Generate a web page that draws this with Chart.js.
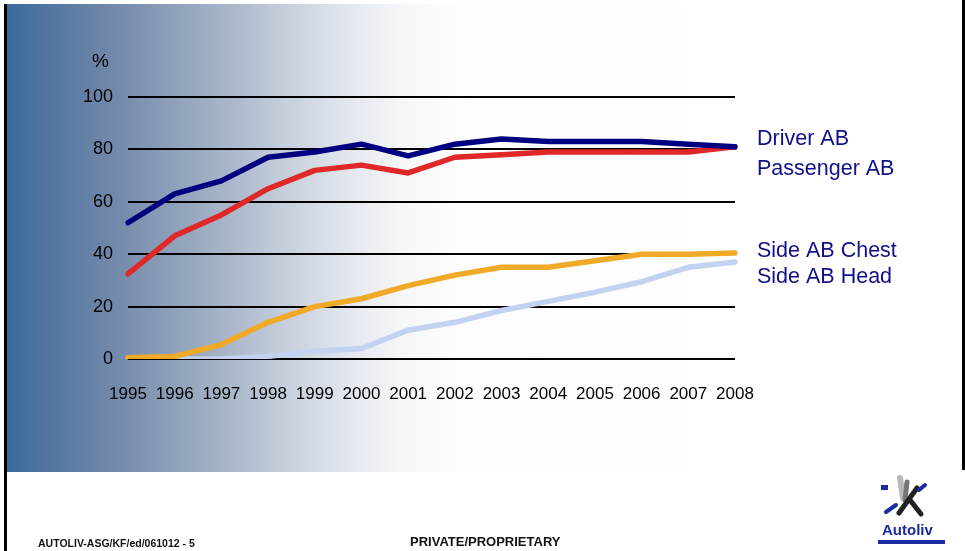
<!DOCTYPE html>
<html>
<head>
<meta charset="utf-8">
<script src="https://cdn.jsdelivr.net/npm/chart.js@4.4.1/dist/chart.umd.min.js"></script>
<style>
  html, body { margin: 0; padding: 0; background: #fff; }
  #page { position: relative; width: 965px; height: 551px; overflow: hidden; background: #fff; font-family: "Liberation Sans", Arial, sans-serif; }
  #bg { position: absolute; left: 7px; top: 4px; width: 955px; height: 468px;
        background: linear-gradient(to right, #3b6a9a 0%, #5a7aa2 6%, #7288aa 11%, #9aaac0 20%, #c0cad8 28%, #e0e5ec 35%, #f4f6f8 41%, #fdfdfe 47%, #ffffff 100%); }
  #lbar { position: absolute; left: 4px; top: 4px; width: 3px; height: 547px; background: #000; }
  #rbar { position: absolute; left: 962px; top: 0; width: 3px; height: 470px; background: #000; }
  #chart { position: absolute; left: 0; top: 0; }
  .foot { position: absolute; font-weight: bold; color: #111; white-space: nowrap; }
</style>
</head>
<body>
<div id="page">
  <div id="bg"></div>
  <div id="lbar"></div>
  <div id="rbar"></div>
  <canvas id="chart" width="965" height="551"></canvas>
  <div class="foot" style="left:38px; top:537px; font-size:10.5px;">AUTOLIV-ASG/KF/ed/061012 - 5</div>
  <div class="foot" style="left:410px; top:534px; font-size:13px;">PRIVATE/PROPRIETARY</div>
</div>
<script>
const years = ['1995', '1996', '1997', '1998', '1999', '2000', '2001', '2002', '2003', '2004', '2005', '2006', '2007', '2008'];
const driverAB = [52, 63, 68, 77, 79, 82, 77.5, 82, 84, 83, 83, 83, 82, 81];
const passengerAB = [32.5, 47, 55, 65, 72, 74, 71, 77, 78, 79, 79, 79, 79, 81];
const sideChest = [0.5, 1, 5.5, 14, 20, 23, 28, 32, 35, 35, 37.5, 40, 40, 40.5];
const sideHead = [0, 0, 0, 1, 3, 4, 11, 14, 18.5, 22, 25.5, 29.5, 35, 37];
const seriesLabels = ['Driver AB', 'Passenger AB', 'Side AB Chest', 'Side AB Head'];
const yTicks = [0, 20, 40, 60, 80, 100];

const labelPositions = [145, 175, 257, 283];

const sideLabels = {
    id: 'sideLabels',
    afterDraw(chart) {
        const ctx = chart.ctx;
        ctx.save();
        ctx.fillStyle = '#10108a';
        ctx.font = '21.5px "Liberation Sans", Arial, sans-serif';
        ctx.textBaseline = 'alphabetic';
        seriesLabels.forEach((label, i) => {
            ctx.fillText(label, 757, labelPositions[i]);
        });
        ctx.fillStyle = '#000';
        ctx.font = '19px "Liberation Sans", Arial, sans-serif';
        ctx.fillText('%', 92, 67);

        // logo
        ctx.lineCap = 'round';
        ctx.strokeStyle = '#b8b8b8';
        ctx.lineWidth = 6;
        ctx.beginPath(); ctx.moveTo(900, 478); ctx.lineTo(903, 498); ctx.stroke();
        ctx.strokeStyle = '#777';
        ctx.lineWidth = 5;
        ctx.beginPath(); ctx.moveTo(907, 482); ctx.lineTo(905, 500); ctx.stroke();
        ctx.strokeStyle = '#222';
        ctx.lineWidth = 5;
        ctx.beginPath(); ctx.moveTo(917, 488); ctx.lineTo(899, 513); ctx.stroke();
        ctx.beginPath(); ctx.moveTo(910, 500); ctx.lineTo(921, 514); ctx.stroke();
        ctx.strokeStyle = '#1a2aa0';
        ctx.lineWidth = 4;
        ctx.beginPath(); ctx.moveTo(919, 490); ctx.lineTo(925, 485); ctx.stroke();
        ctx.beginPath(); ctx.moveTo(886, 512); ctx.lineTo(896, 505); ctx.stroke();
        ctx.fillStyle = '#1a2aa0';
        ctx.fillRect(881, 485, 7, 5);
        ctx.font = 'bold 15px "Liberation Sans", Arial, sans-serif';
        ctx.fillText('Autoliv', 882, 535);
        ctx.fillRect(878, 540, 67, 4);
        ctx.restore();
    }
};

const ctx = document.getElementById('chart').getContext('2d');
new Chart(ctx, {
    type: 'line',
    data: {
        labels: years,
        datasets: [
            { label: seriesLabels[0], data: driverAB, borderColor: '#000080' },
            { label: seriesLabels[1], data: passengerAB, borderColor: '#e02828' },
            { label: seriesLabels[2], data: sideChest, borderColor: '#f0aa28' },
            { label: seriesLabels[3], data: sideHead, borderColor: '#c2d2f0' }
        ].map(d => Object.assign(d, { borderWidth: 5.5, pointRadius: 0, tension: 0, fill: false, borderCapStyle: 'round', borderJoinStyle: 'round' }))
    },
    options: {
        responsive: false,
        animation: false,
        layout: { padding: { top: 97, right: 230, left: 0, bottom: 0 } },
        plugins: { legend: { display: false }, tooltip: { enabled: false } },
        scales: {
            x: {
                offset: false,
                grid: { display: false },
                border: { display: false },
                ticks: { color: '#000', font: { size: 17, family: '"Liberation Sans", Arial, sans-serif' }, padding: 17, maxRotation: 0, autoSkip: false },
                afterFit(scale) { scale.height = 192; }
            },
            y: {
                min: 0,
                max: 100,
                afterBuildTicks(scale) { scale.ticks = yTicks.map(v => ({ value: v })); },
                grid: { color: '#000', lineWidth: 2, drawTicks: false },
                border: { display: false },
                ticks: { color: '#000', font: { size: 18, family: '"Liberation Sans", Arial, sans-serif' }, padding: 15 },
                afterFit(scale) { scale.width = 128; }
            }
        }
    },
    plugins: [sideLabels]
});
</script>
</body>
</html>
